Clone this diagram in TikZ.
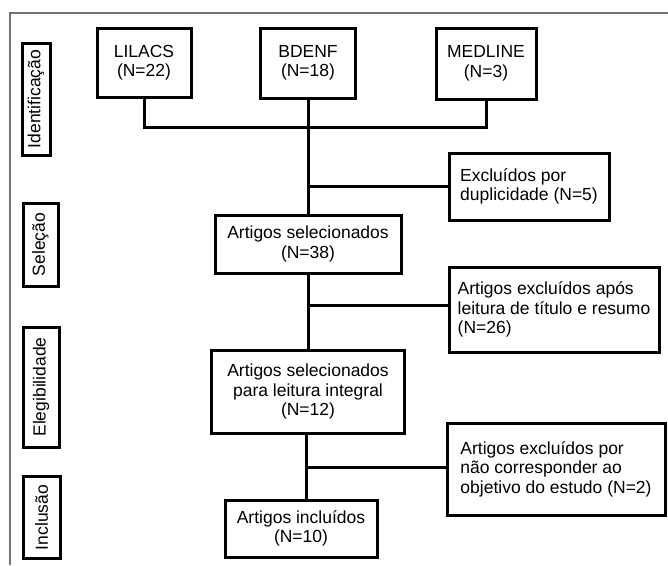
\documentclass[tikz,border=0pt]{standalone}
\usepackage{fontspec}
\setmainfont{Liberation Sans}
\begin{document}
\begin{tikzpicture}[x=1pt,y=-1pt,
  every node/.style={font=\fontsize{17.5}{19.5}\selectfont},
  bx/.style={draw, line width=3pt, inner sep=0pt, align=center},
  lbx/.style={draw, line width=3pt, inner sep=0pt, align=left},
  side/.style={draw, line width=3pt, inner sep=0pt, rotate=90},
  conn/.style={line width=3pt}]
\useasboundingbox (0,0) rectangle (668,565);
\draw[black!55, line width=1.2pt] (10,565) -- (10,13) -- (668,13);
% side labels
\node[side, minimum width=112pt, minimum height=28pt] (sid) at (36,99) {Identificação};
\node[side, minimum width=83pt, minimum height=35pt] (ssel) at (40.5,244.5) {Seleção};
\node[side, minimum width=120pt, minimum height=36pt] (seleg) at (41,387) {Elegibilidade};
\node[side, minimum width=82pt, minimum height=37pt] (sinc) at (41.5,517.5) {Inclusão};
% sources
\node[bx, minimum width=94pt, minimum height=69pt] (lil) at (144,62.5) {LILACS\\(N=22)};
\node[bx, minimum width=95pt, minimum height=70pt] (bde) at (308,63) {BDENF\\(N=18)};
\node[bx, minimum width=100pt, minimum height=71pt] (med) at (486,63.5) {MEDLINE\\(N=3)};
% flow
\node[bx, minimum width=186pt, minimum height=58pt] (sel) at (308,244) {Artigos selecionados\\(N=38)};
\node[bx, minimum width=193pt, minimum height=83pt] (ele) at (308,391.5) {Artigos selecionados\\para leitura integral\\(N=12)};
\node[bx, minimum width=152pt, minimum height=57pt] (inc) at (301,528.5) {Artigos incluídos\\(N=10)};
% exclusions
\node[lbx, minimum width=160pt, minimum height=67pt] (ex1) at (529,186.5) {Excluídos por\\duplicidade (N=5)};
\node[lbx, minimum width=210pt, minimum height=85pt] (ex2) at (554,309.5) {Artigos excluídos após\\leitura de título e resumo\\(N=26)};
\node[lbx, minimum width=218pt, minimum height=92pt] (ex3) at (556,469) {Artigos excluídos por\\não corresponder ao\\objetivo do estudo (N=2)};
% connectors
\coordinate (j1) at (bde.south |- 0,127);
\draw[conn] (lil.south) |- (j1) -| (med.south);
\draw[conn] (bde.south) -- (sel.north);
\draw[conn] (bde.south |- ex1.west) -- (ex1.west);
\draw[conn] (sel.south) -- (ele.north);
\draw[conn] (sel.south |- 0,305) -- (ex2.west |- 0,305);
\coordinate (j3) at (306,433);
\draw[conn] (ele.south -| j3) -- (inc.north -| j3);
\draw[conn] (j3 |- 0,467) -- (ex3.west |- 0,467);
\end{tikzpicture}
\end{document}
